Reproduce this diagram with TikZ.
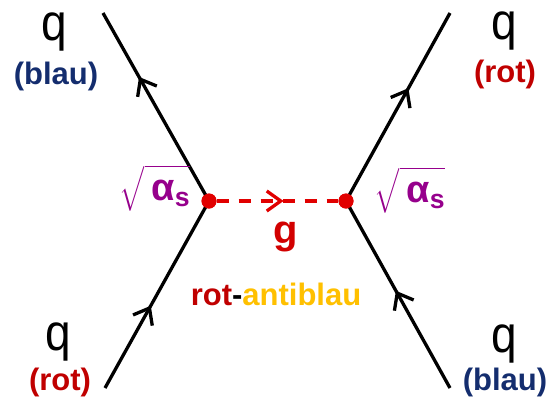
\documentclass[tikz,border=0pt]{standalone}
\usepackage{amsmath}
\usepackage{fontspec}
\setmainfont{Liberation Sans}
\usetikzlibrary{arrows.meta,decorations.markings}
\definecolor{qblue}{RGB}{20,45,110}
\definecolor{qred}{RGB}{192,0,0}
\definecolor{gred}{RGB}{210,0,0}
\definecolor{dotred}{RGB}{225,0,0}
\definecolor{aorange}{RGB}{255,192,0}
\definecolor{apurple}{RGB}{150,0,140}
\tikzset{
  quark/.style={line width=3.3pt, black, postaction={decorate},
    decoration={markings, mark=at position #1 with {\arrow{Straight Barb[length=14pt,width=22pt,line width=3.3pt]}}}},
  gluon/.style={line width=3.3pt, dotred, dash pattern=on 12pt off 10pt, postaction={decorate},
    decoration={markings, mark=at position 0.55 with {\arrow[solid]{Straight Barb[length=14pt,width=20pt,line width=3.3pt]}}}},
  vtx/.style={circle, fill=dotred, inner sep=0pt, minimum size=15pt},
  qlabel/.style={inner sep=0pt, font=\fontsize{46}{46}\selectfont, yscale=1.12, transform shape},
  clabel/.style={inner sep=0pt, font=\fontsize{31}{31}\selectfont\bfseries},
  alabel/.style={inner sep=0pt, text=apurple, font=\fontsize{38}{38}\selectfont}
}
\begin{document}
\begin{tikzpicture}[x=1pt,y=-1pt]
\useasboundingbox (0,0) rectangle (552,400);
\coordinate (TL) at (103,13);
\coordinate (BL) at (105,388);
\coordinate (TR) at (450,13);
\coordinate (BR) at (450,388);
\node[vtx] (V1) at (209,201) {};
\node[vtx] (V2) at (346,201) {};
\draw[quark=0.44] (BL) -- (V1.center);
\draw[quark=0.66] (V1.center) -- (TL);
\draw[quark=0.52] (BR) -- (V2.center);
\draw[quark=0.60] (V2.center) -- (TR);
\draw[gluon] (V1) -- (V2);
\node[vtx] at (V1) {};
\node[vtx] at (V2) {};
% labels
\node[qlabel] (q1) at (54,32) {q};
\node[clabel, text=qblue] (c1) at (56,76) {(blau)};
\node[qlabel] (q2) at (504,31) {q};
\node[clabel, text=qred] (c2) at (505,74) {(rot)};
\node[qlabel] (q3) at (58,342) {q};
\node[clabel, text=qred] (c3) at (60,382) {(rot)};
\node[qlabel] (q4) at (504,344) {q};
\node[clabel, text=qblue] (c4) at (505,382) {(blau)};
\node[alabel] (a1) at (155,188) {$\sqrt{\vphantom{\textbf{l}}\;\textbf{α}_{\textbf{s}}}$};
\node[alabel] (a2) at (410,190) {$\sqrt{\vphantom{\textbf{l}}\;\textbf{α}_{\textbf{s}}}$};
\node[inner sep=0pt, text=gred, font=\fontsize{40}{40}\selectfont\bfseries] (g) at (286,237) {g};
\node[anchor=base, inner sep=0pt, font=\fontsize{31}{31}\selectfont\bfseries] (ra) at (276,305) {\textcolor{qred}{rot}-\textcolor{aorange}{antiblau}};
\end{tikzpicture}
\end{document}
